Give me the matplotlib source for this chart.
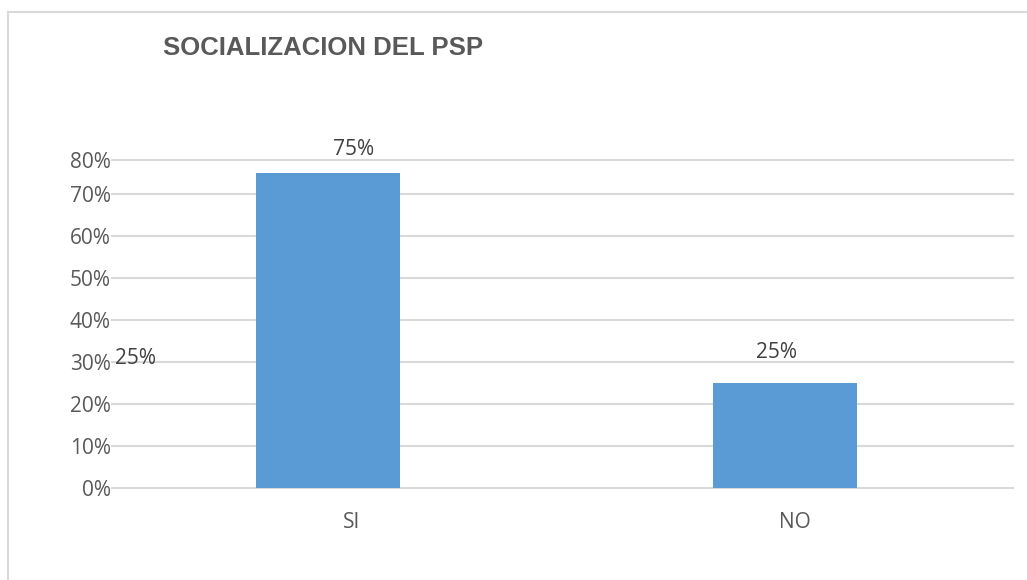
import matplotlib
matplotlib.use("Agg")
from matplotlib import pyplot as plt
from matplotlib.lines import Line2D
from matplotlib.transforms import ScaledTranslation

categories = ["SI", "NO"]
values = [0.75, 0.25]
value_labels = ["75%", "25%"]
tick_values = [0.0, 0.1, 0.2, 0.3, 0.4, 0.5, 0.6, 0.7, 0.781]
tick_labels = ["0%", "10%", "20%", "30%", "40%", "50%", "60%", "70%", "80%"]
stray_label = "25%"

BAR = "#5B9BD5"
GRID = "#D9D9D9"
TEXT = "#595959"
FONT = ["Open Sans", "DejaVu Sans"]

fig = plt.figure(figsize=(10.27, 5.8), dpi=100)
ax = fig.add_axes([112 / 1027, 1 - 488 / 580, 901 / 1027, 328 / 580])

x = list(range(len(categories)))
ax.bar(x, values, width=0.315, color=BAR, zorder=3)

ax.set_xlim(-0.473, 1.499)
ax.set_ylim(0, 0.781)
ax.set_yticks(tick_values)
ax.set_yticklabels(tick_labels, fontsize=15, color=TEXT, family=FONT)
ax.set_xticks(x)
ax.set_xticklabels(categories, fontsize=15, color=TEXT, family=FONT)
ax.tick_params(axis="y", length=0, pad=1)
ax.tick_params(axis="x", length=0, pad=17)
# category labels sit a bit right of the bars in the original
label_shift = [0.24, 0.10]
for lab, sh in zip(ax.get_xticklabels(), label_shift):
    lab.set_transform(lab.get_transform() + ScaledTranslation(sh, 0, fig.dpi_scale_trans))

ax.grid(axis="y", color=GRID, linewidth=1.5, zorder=0)
for gl in ax.get_ygridlines():
    gl.set_clip_on(False)
for s in ax.spines.values():
    s.set_visible(False)

# data labels
offsets = [(18, 17), (-6, 22)]
for xi, v, lab, off in zip(x, values, value_labels, offsets):
    ax.annotate(lab, (xi, v), xytext=off, textcoords="offset points",
                ha="center", va="center", fontsize=15, color="#404040",
                family=FONT, annotation_clip=False)

fig.text(115 / 1027, 1 - 358 / 580, stray_label, ha="left", va="center",
         fontsize=15, color="#404040", family=FONT)

fig.text(163 / 1027, 1 - 48 / 580, "SOCIALIZACION DEL PSP", ha="left", va="center",
         fontsize=18.5, fontweight="bold", color=TEXT, family="Liberation Sans")

# chart border (left and top edges visible)
fig.add_artist(Line2D([8 / 1027, 8 / 1027], [0, 1 - 12 / 580], color=GRID, linewidth=1.5))
fig.add_artist(Line2D([8 / 1027, 1], [1 - 12 / 580, 1 - 12 / 580], color=GRID, linewidth=1.5))

plt.savefig("out.png", dpi=100)
plt.close()
